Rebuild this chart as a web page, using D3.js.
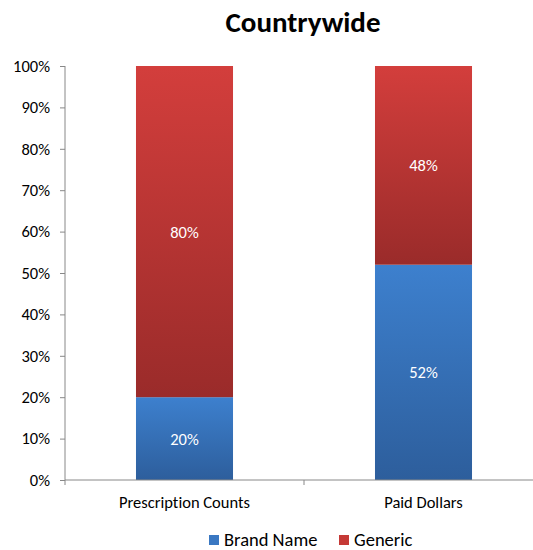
<!DOCTYPE html>
<html><head><meta charset="utf-8">
<script src="https://cdn.jsdelivr.net/npm/d3@7"></script>
<style>body{margin:0;background:#fff;} text{font-family:Carlito,"Open Sans","Liberation Sans",sans-serif;font-variant-ligatures:none;}</style>
</head><body><svg id="c" width="533" height="550"></svg>
<script>
const categories = ["Prescription Counts", "Paid Dollars"];
const seriesNames = ["Brand Name", "Generic"];
const brandName = [0.20, 0.52];
const generic = [0.80, 0.48];
const yTicks = [0,0.1,0.2,0.3,0.4,0.5,0.6,0.7,0.8,0.9,1.0];
const title = "Countrywide";

const svg = d3.select("#c");
const defs = svg.append("defs");
function grad(id, top, bottom){
  const g = defs.append("linearGradient").attr("id", id).attr("x1",0).attr("y1",0).attr("x2",0).attr("y2",1);
  g.append("stop").attr("offset","0%").attr("stop-color",top);
  g.append("stop").attr("offset","100%").attr("stop-color",bottom);
}
grad("gBlue", "#3D80CE", "#2D5E9C");
grad("gRed", "#D33E3C", "#9A2B2A");
const fills = ["url(#gBlue)", "url(#gRed)"];
const legendFills = ["#3A78C2", "#C53936"];

const m = {l:65, r:543, t:66, b:480};
const x = d3.scaleBand().domain(categories).range([m.l, m.r]).paddingInner(0.594).paddingOuter(0.297);
const y = d3.scaleLinear().domain([0,1]).range([m.b, m.t]);

svg.append("text").attr("x",303).attr("y",32).attr("text-anchor","middle")
  .attr("font-size",29).attr("font-weight","bold").attr("fill","#000").text(title);

const stackData = categories.map((c,i)=>({cat:c, "Brand Name":brandName[i], "Generic":generic[i]}));
const stack = d3.stack().keys(seriesNames)(stackData);

stack.forEach((s,si)=>{
  svg.append("g").selectAll("rect").data(s).join("rect")
    .attr("x", d=>x(d.data.cat)).attr("width", x.bandwidth())
    .attr("y", d=>y(d[1])).attr("height", d=>y(d[0])-y(d[1]))
    .attr("fill", fills[si]);
  svg.append("g").selectAll("text").data(s).join("text")
    .attr("x", d=>x(d.data.cat)+x.bandwidth()/2)
    .attr("y", d=>(y(d[0])+y(d[1]))/2+6)
    .attr("text-anchor","middle").attr("font-size",16.5).attr("fill","#fff")
    .text(d=>Math.round((d[1]-d[0])*100)+"%");
});

const yAxis = svg.append("g").attr("transform",`translate(${m.l},0)`)
  .call(d3.axisLeft(y).tickValues(yTicks).tickFormat(d3.format(".0%")).tickSize(5).tickPadding(10));
yAxis.select(".domain").attr("stroke","#888").attr("d",`M0,${m.t}V${m.b}`);
yAxis.selectAll(".tick line").attr("stroke","#888");
yAxis.selectAll(".tick text").attr("font-size",16.5).attr("fill","#000")
  .style("font-family",'Carlito,"Open Sans","Liberation Sans",sans-serif');

const xAxis = svg.append("g").attr("transform",`translate(0,${m.b})`);
xAxis.append("line").attr("x1",m.l).attr("x2",m.r).attr("stroke","#888");
const bounds = [m.l, (m.l+m.r)/2, m.r];
xAxis.selectAll("line.t").data(bounds).join("line").attr("class","t")
  .attr("x1",d=>d).attr("x2",d=>d).attr("y1",0).attr("y2",5).attr("stroke","#888");
xAxis.selectAll("text").data(categories).join("text")
  .attr("x",d=>x(d)+x.bandwidth()/2).attr("y",28).attr("text-anchor","middle")
  .attr("font-size",16.5).attr("fill","#000").text(d=>d);

const lg = svg.append("g");
const lx = [209, 339];
seriesNames.forEach((n,i)=>{
  lg.append("rect").attr("x",lx[i]).attr("y",535).attr("width",10).attr("height",10).attr("fill",legendFills[i]);
  lg.append("text").attr("x",lx[i]+15).attr("y",546).attr("font-size",18.5).attr("fill","#000").text(n);
});
</script></body></html>
